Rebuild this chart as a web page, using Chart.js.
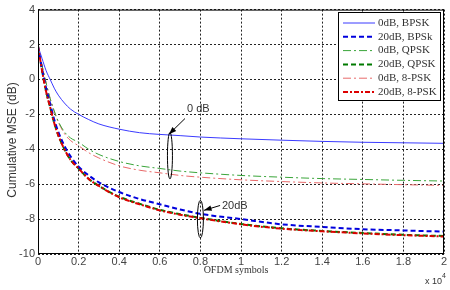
<!DOCTYPE html>
<html>
<head>
<meta charset="utf-8">
<script src="https://cdn.jsdelivr.net/npm/chart.js@4/dist/chart.umd.min.js"></script>
<style>
  html, body { margin: 0; padding: 0; background: #fff; }
  canvas { display: block; }
</style>
</head>
<body>
<canvas id="chart" width="450" height="290"></canvas>
<script>
// OFDM symbols (x 10^4)
const symbols = [0, 0.02, 0.04, 0.06, 0.08, 0.1, 0.13, 0.16, 0.2, 0.25, 0.3, 0.4, 0.5, 0.6, 0.7, 0.8, 1.0, 1.2, 1.4, 1.6, 1.8, 2.0];

// cumulative MSE, dB
const bpsk0   = [1.9, 1.2, 0.5, 0, -0.5, -0.9, -1.35, -1.7, -2.0, -2.3, -2.55, -2.85, -3.05, -3.15, -3.22, -3.3, -3.4, -3.48, -3.55, -3.6, -3.63, -3.66];
const bpsk20  = [1.9, 0.6, -0.5, -1.4, -2.3, -3.0, -3.8, -4.4, -5.0, -5.5, -5.9, -6.45, -6.85, -7.15, -7.45, -7.7, -8.0, -8.3, -8.45, -8.58, -8.65, -8.72];
const qpsk0   = [1.9, 0.8, -0.2, -1.1, -1.8, -2.4, -3.0, -3.35, -3.6, -4.0, -4.3, -4.7, -4.95, -5.1, -5.25, -5.35, -5.5, -5.6, -5.68, -5.73, -5.78, -5.82];
const qpsk20  = [1.9, 0.5, -0.7, -1.6, -2.5, -3.2, -4.0, -4.6, -5.1, -5.7, -6.1, -6.72, -7.12, -7.47, -7.72, -7.93, -8.28, -8.53, -8.68, -8.8, -8.9, -8.97];
const psk8_0  = [1.9, 0.8, -0.2, -1.1, -1.85, -2.45, -3.1, -3.5, -3.8, -4.2, -4.5, -4.95, -5.2, -5.35, -5.5, -5.6, -5.75, -5.85, -5.93, -5.98, -6.03, -6.07];
const psk8_20 = [1.9, 0.5, -0.7, -1.6, -2.5, -3.2, -4.0, -4.6, -5.1, -5.7, -6.1, -6.75, -7.15, -7.5, -7.75, -7.95, -8.3, -8.55, -8.7, -8.82, -8.92, -9.0];

const seriesNames = ['0dB, BPSK', '20dB, BPSk', '0dB, QPSK', '20dB, QPSK', '0dB, 8-PSK', '20dB, 8-PSK'];

const xTicks = [0, 0.2, 0.4, 0.6, 0.8, 1, 1.2, 1.4, 1.6, 1.8, 2];
const yTicks = [4, 2, 0, -2, -4, -6, -8, -10];

// annotation text + arrows + ellipses, in data units
const notes = [
    { text: '0 dB', tx: 0.734, ty: -1.72, ax: 0.724, ay: -2.24, hx: 0.645, hy: -3.14, ex: 0.65, ey: -4.37, eh: 1.33, ew: 2.5 },
    { text: '20dB', tx: 0.906, ty: -7.22, ax: 0.897, ay: -7.22, hx: 0.818, hy: -7.5, ex: 0.8, ey: -8.0, eh: 1.08, ew: 3 }
];

const pts = arr => arr.map((v, i) => ({ x: symbols[i], y: v }));

const ctx = document.getElementById('chart').getContext('2d');

const extras = {
    id: 'extras',
    afterDraw(chart) {
        const c = chart.ctx;
        const a = chart.chartArea;
        const xs = chart.scales.x, ys = chart.scales.y;
        c.save();

        // box
        c.strokeStyle = '#000';
        c.lineWidth = 1;
        c.setLineDash([]);
        c.strokeRect(a.left + 0.5, a.top + 0.5, a.right - a.left - 1, a.bottom - a.top - 1);

        // notes
        notes.forEach(n => {
            c.strokeStyle = '#000';
            c.fillStyle = '#000';
            c.lineWidth = 1;
            const x1 = xs.getPixelForValue(n.ax), y1 = ys.getPixelForValue(n.ay);
            const x2 = xs.getPixelForValue(n.hx), y2 = ys.getPixelForValue(n.hy);
            c.beginPath(); c.moveTo(x1, y1); c.lineTo(x2, y2); c.stroke();
            const ang = Math.atan2(y2 - y1, x2 - x1);
            c.beginPath();
            c.moveTo(x2, y2);
            c.lineTo(x2 - 8 * Math.cos(ang - 0.35), y2 - 8 * Math.sin(ang - 0.35));
            c.lineTo(x2 - 8 * Math.cos(ang + 0.35), y2 - 8 * Math.sin(ang + 0.35));
            c.closePath(); c.fill();
            const ex = xs.getPixelForValue(n.ex), ey = ys.getPixelForValue(n.ey);
            const eh = Math.abs(ys.getPixelForValue(n.ey + n.eh) - ey);
            c.beginPath(); c.ellipse(ex, ey, n.ew, eh, 0, 0, Math.PI * 2); c.stroke();
            c.font = '11px "Liberation Sans"';
            c.fillStyle = '#333';
            c.textAlign = 'left'; c.textBaseline = 'middle';
            c.fillText(n.text, xs.getPixelForValue(n.tx), ys.getPixelForValue(n.ty));
        });

        // legend
        const lx = 338, ly = 12, lw = 102, lh = 88;
        c.fillStyle = '#fff';
        c.fillRect(lx, ly, lw, lh);
        c.strokeStyle = '#000';
        c.lineWidth = 1;
        c.strokeRect(lx + 0.5, ly + 0.5, lw, lh);
        c.font = '11px "Liberation Serif"';
        c.textAlign = 'left'; c.textBaseline = 'middle';
        chart.data.datasets.forEach((ds, i) => {
            const yy = ly + 11 + i * 13.8;
            c.strokeStyle = ds.borderColor;
            c.lineWidth = ds.borderWidth;
            c.setLineDash(ds.borderDash || []);
            c.beginPath(); c.moveTo(lx + 5, yy); c.lineTo(lx + 37, yy); c.stroke();
            c.setLineDash([]);
            c.fillStyle = '#333';
            c.fillText(ds.label, lx + 40, yy);
        });

        // axis titles
        c.fillStyle = '#333';
        c.font = '10px "Liberation Serif"';
        c.textAlign = 'center';
        c.fillText('OFDM symbols', 236, 270);
        c.font = '9px "Liberation Sans"';
        c.textAlign = 'left';
        c.fillText('x 10', 425, 282);
        c.font = '7px "Liberation Sans"';
        c.fillText('4', 442, 276);
        c.translate(13, 140);
        c.rotate(-Math.PI / 2);
        c.font = '12px "Liberation Sans"';
        c.textAlign = 'center';
        c.fillText('Cumulative MSE (dB)', 0, 0);
        c.restore();
    }
};

new Chart(ctx, {
    type: 'line',
    data: {
        datasets: [
            { label: seriesNames[0], data: pts(bpsk0), borderColor: '#3b3bff', borderWidth: 1, order: 2 },
            { label: seriesNames[1], data: pts(bpsk20), borderColor: '#0000dd', borderWidth: 2, borderDash: [5, 3], order: 3 },
            { label: seriesNames[2], data: pts(qpsk0), borderColor: '#3aa53a', borderWidth: 1, borderDash: [8, 3, 2, 3], order: 4 },
            { label: seriesNames[3], data: pts(qpsk20), borderColor: '#007a00', borderWidth: 2, borderDash: [5, 3], order: 5 },
            { label: seriesNames[4], data: pts(psk8_0), borderColor: '#e86a6a', borderWidth: 1, borderDash: [8, 3, 2, 3], order: 6 },
            { label: seriesNames[5], data: pts(psk8_20), borderColor: '#dd0000', borderWidth: 2, borderDash: [5, 2, 2, 2], order: 1 }
        ]
    },
    options: {
        responsive: false,
        animation: false,
        layout: { padding: { top: 7, right: 6, left: 0, bottom: 0 } },
        elements: {
            point: { radius: 0 },
            line: { cubicInterpolationMode: 'monotone', fill: false }
        },
        plugins: { legend: { display: false }, tooltip: { enabled: false } },
        scales: {
            x: {
                type: 'linear',
                min: 0, max: 2,
                afterFit: s => { s.height = 36; },
                afterBuildTicks: s => { s.ticks = xTicks.map(v => ({ value: v })); },
                ticks: {
                    padding: 1,
                    color: '#444',
                    font: { family: 'Liberation Sans', size: 11 },
                    maxRotation: 0,
                    callback: v => String(Number(v.toFixed(1)))
                },
                grid: { color: '#222', drawTicks: false, tickLength: 0 },
                border: { display: false, dash: [2, 2] }
            },
            y: {
                min: -10, max: 4,
                afterFit: s => { s.width = 38; },
                afterBuildTicks: s => { s.ticks = yTicks.map(v => ({ value: v })); },
                ticks: {
                    padding: 3,
                    color: '#444',
                    font: { family: 'Liberation Sans', size: 11 },
                    callback: v => String(v)
                },
                grid: { color: '#222', drawTicks: false, tickLength: 0 },
                border: { display: false, dash: [2, 2] }
            }
        }
    },
    plugins: [extras]
});
</script>
</body>
</html>
